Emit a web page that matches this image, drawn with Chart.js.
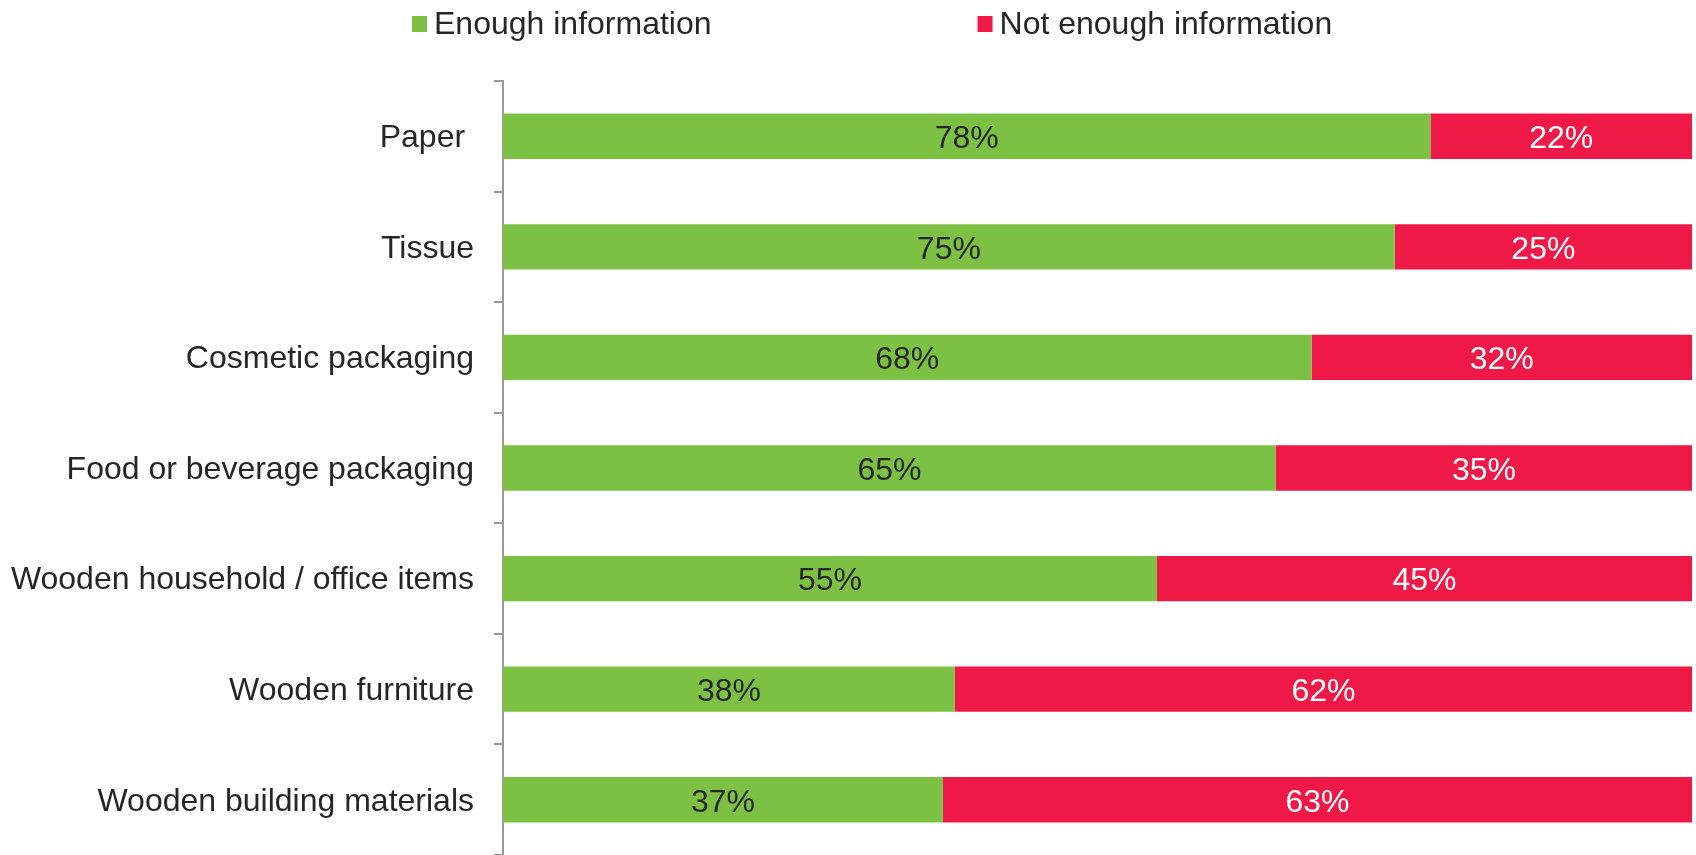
<!DOCTYPE html>
<html>
<head>
<meta charset="utf-8">
<title>Information availability by product type</title>
<script src="https://cdn.jsdelivr.net/npm/chart.js@4.4.1/dist/chart.umd.min.js"></script>
<style>
  html, body { margin: 0; padding: 0; background: #fff; }
  #wrap { width: 1696px; height: 855px; }
</style>
</head>
<body>
<div id="wrap"><canvas id="infoChart" width="1696" height="855"></canvas></div>
<script>
const categories = [
  'Paper ',
  'Tissue',
  'Cosmetic packaging',
  'Food or beverage packaging',
  'Wooden household / office items',
  'Wooden furniture',
  'Wooden building materials'
];
const enoughInfo = [78, 75, 68, 65, 55, 38, 37];
const notEnoughInfo = [22, 25, 32, 35, 45, 62, 63];
const seriesNames = ['Enough information', 'Not enough information'];

const GREEN = '#7cc143';
const RED = '#ee1946';
const TEXT = '#262626';
const FONT = '"Liberation Sans", Arial, sans-serif';

// percentage text centred inside each bar segment
const segmentLabels = {
  id: 'segmentLabels',
  afterDatasetsDraw(chart) {
    const ctx = chart.ctx;
    ctx.save();
    ctx.font = '32px ' + FONT;
    ctx.textAlign = 'center';
    ctx.textBaseline = 'middle';
    chart.data.datasets.forEach((ds, i) => {
      const meta = chart.getDatasetMeta(i);
      meta.data.forEach((bar, j) => {
        ctx.fillStyle = ds.labelColor;
        ctx.fillText(ds.data[j] + '%', (bar.x + bar.base) / 2, bar.y + 3);
      });
    });
    ctx.restore();
  }
};

// legend row along the top, with a wide gap between the two entries
const topLegend = {
  id: 'topLegend',
  afterDraw(chart) {
    const ctx = chart.ctx;
    ctx.save();
    ctx.font = '32px ' + FONT;
    ctx.textBaseline = 'middle';
    let x = 412;
    const y = 24;
    chart.data.datasets.forEach(ds => {
      ctx.fillStyle = ds.backgroundColor;
      ctx.fillRect(x, y - 8, 15, 16);
      ctx.fillStyle = TEXT;
      ctx.fillText(ds.label, x + 22, y + 1);
      x += 22 + ctx.measureText(ds.label).width + 266;
    });
    ctx.restore();
  }
};

new Chart(document.getElementById('infoChart'), {
  type: 'bar',
  data: {
    labels: categories,
    datasets: [
      {
        label: seriesNames[0],
        data: enoughInfo,
        backgroundColor: GREEN,
        labelColor: TEXT,
        barPercentage: 0.41,
        categoryPercentage: 1
      },
      {
        label: seriesNames[1],
        data: notEnoughInfo,
        backgroundColor: RED,
        labelColor: '#ffffff',
        barPercentage: 0.41,
        categoryPercentage: 1
      }
    ]
  },
  options: {
    indexAxis: 'y',
    responsive: false,
    devicePixelRatio: 1,
    animation: false,
    layout: { padding: { top: 81, right: 4, bottom: 0, left: 0 } },
    plugins: {
      legend: { display: false },
      tooltip: { enabled: false }
    },
    scales: {
      x: {
        stacked: true,
        display: false,
        min: 0,
        max: 100
      },
      y: {
        stacked: true,
        offset: true,
        grid: {
          offset: true,
          drawOnChartArea: false,
          tickLength: 9,
          color: '#999999',
          lineWidth: 2
        },
        border: { color: '#999999', width: 2 },
        ticks: {
          padding: 20,
          labelOffset: 2,
          color: TEXT,
          font: { family: FONT, size: 32 }
        },
        afterFit(scale) {
          // fixed label column; let the axis run to the bottom edge
          scale.width = 503;
          scale.paddingTop = 0;
          scale.paddingBottom = 0;
        }
      }
    }
  },
  plugins: [segmentLabels, topLegend]
});
</script>
</body>
</html>
